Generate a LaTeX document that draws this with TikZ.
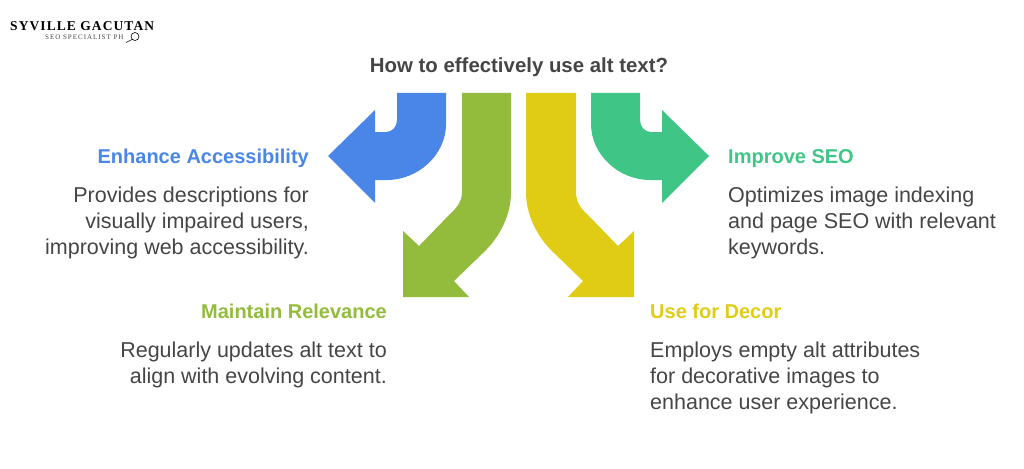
\documentclass[tikz,border=0pt]{standalone}
\usepackage{fontspec}
\setmainfont{Liberation Sans}
\newfontfamily\logofont[LetterSpace=8]{Liberation Serif}
\newfontfamily\logosubfont[LetterSpace=14]{Liberation Serif}
\usetikzlibrary{positioning}
\definecolor{accblue}{HTML}{4A86E8}
\definecolor{relgreen}{HTML}{93BC3C}
\definecolor{decyellow}{HTML}{E0CC14}
\definecolor{seoteal}{HTML}{3FC686}
\definecolor{bodygray}{HTML}{454545}

\begin{document}
\begin{tikzpicture}[x=1pt, y=-1pt,
    head/.style={inner sep=0, text height=15pt, text depth=5pt, font=\fontsize{20}{24}\selectfont\bfseries},
    headl/.style={head, anchor=west},
    headr/.style={head, anchor=east},
    body/.style={inner sep=0, text=bodygray, font=\fontsize{21.5}{26}\selectfont},
    bodyl/.style={body, align=left, below right=28.8pt and 0pt of #1.west},
    bodyr/.style={body, align=right, below left=28.8pt and 0pt of #1.east}
]
\useasboundingbox (0,0) rectangle (1024,468);

% Logo
\node[inner sep=0, anchor=west, font=\fontsize{13.5}{14}\logofont\bfseries] (logo) at (10,26) {SYVILLE GACUTAN};
\node[inner sep=0, anchor=west, text=bodygray, font=\fontsize{7}{8}\logosubfont] (logosub) at (45,37) {SEO SPECIALIST PH};
\draw[semithick] (135,36.5) circle (4);
\draw[semithick] (132,39.5) -- (126,42.5);

% Title
\node[inner sep=0, text=bodygray, font=\fontsize{20.4}{24}\selectfont\bfseries] (title) at (519,67) {How to effectively use alt text?};

% Blue arrow
\fill[accblue] (397,93) -- (446,93) -- (446,124) .. controls (446,155) and (418,180) .. (387,180)
    -- (375,180) -- (375,203) -- (328,156) -- (375,110) -- (375,132) -- (386,132)
    .. controls (392,132) and (397,127) .. (397,120) -- cycle;

% Green arrow
\fill[relgreen] (462,93) -- (511,93) -- (511,192) .. controls (511,215) and (500,237) .. (483,253)
    -- (454,281) -- (469,297) -- (403,297) -- (403,231) -- (419,246) -- (450,214)
    .. controls (458,207) and (462,200) .. (462,192) -- cycle;

% Yellow arrow
\fill[decyellow] (576,93) -- (526,93) -- (526,192) .. controls (526,215) and (537,237) .. (554,253)
    -- (583,281) -- (568,297) -- (634,297) -- (634,231) -- (618,246) -- (587,214)
    .. controls (579,207) and (576,200) .. (576,192) -- cycle;

% Teal arrow
\fill[seoteal] (640,93) -- (591,93) -- (591,124) .. controls (591,155) and (619,180) .. (650,180)
    -- (662,180) -- (662,203) -- (709,156) -- (662,110) -- (662,132) -- (651,132)
    .. controls (645,132) and (640,127) .. (640,120) -- cycle;

% Enhance Accessibility
\node[headr, text=accblue] (acchead) at (309,158) {Enhance Accessibility};
\node[bodyr=acchead] (accbody) {Provides descriptions for\\visually impaired users,\\improving web accessibility.};

% Maintain Relevance
\node[headr, text=relgreen] (relhead) at (387,313) {Maintain Relevance};
\node[bodyr=relhead] (relbody) {Regularly updates alt text to\\align with evolving content.};

% Improve SEO
\node[headl, text=seoteal] (seohead) at (728,158) {Improve SEO};
\node[bodyl=seohead] (seobody) {Optimizes image indexing\\and page SEO with relevant\\keywords.};

% Use for Decor
\node[headl, text=decyellow] (dechead) at (650,313) {Use for Decor};
\node[bodyl=dechead] (decbody) {Employs empty alt attributes\\for decorative images to\\enhance user experience.};

\end{tikzpicture}
\end{document}
